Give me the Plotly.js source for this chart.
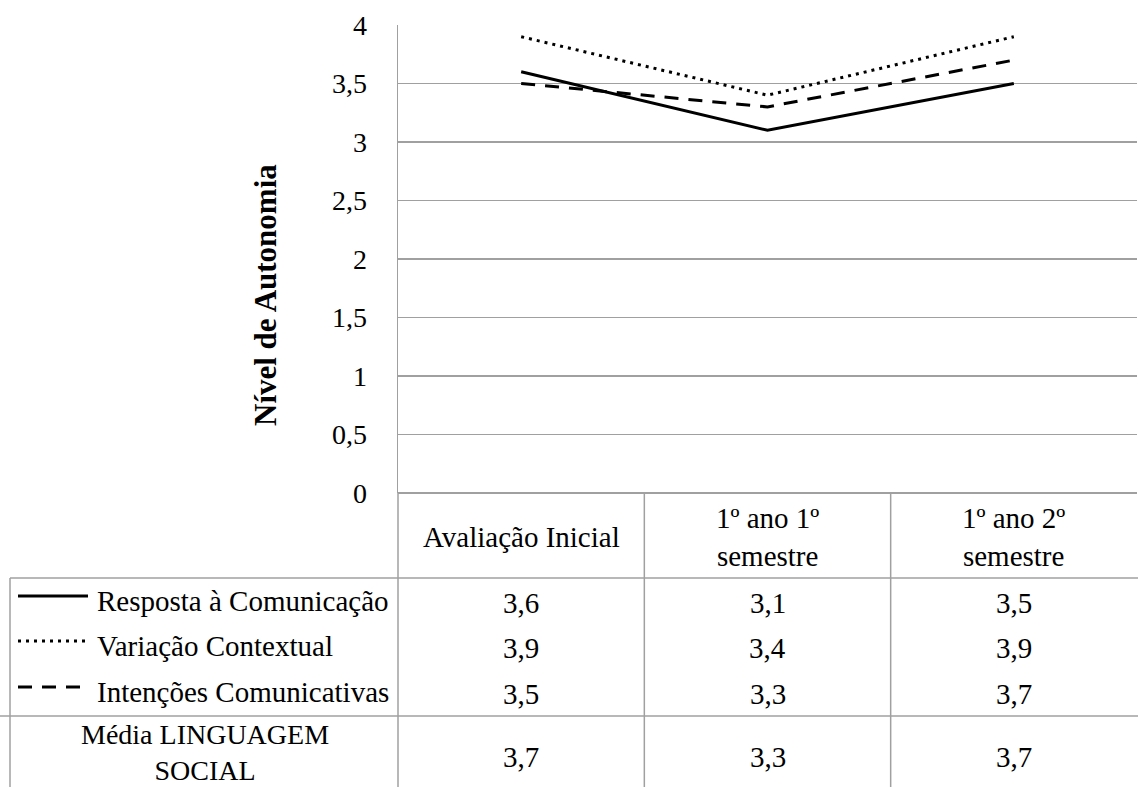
<!DOCTYPE html>
<html>
<head>
<meta charset="utf-8">
<script src="https://cdn.plot.ly/plotly-3.0.1.min.js"></script>
<style>
html,body{margin:0;padding:0;background:#fff;}
#chart{width:1138px;height:787px;}
</style>
</head>
<body>
<div id="chart"></div>
<script>
// ---- data ----
var categories = ['Avaliação Inicial', '1º ano 1º semestre', '1º ano 2º semestre'];
var categoryLabels = ['Avaliação Inicial', '1º ano 1º<br>semestre', '1º ano 2º<br>semestre'];
var seriesNames = ['Resposta à Comunicação', 'Variação Contextual', 'Intenções Comunicativas'];
var resposta = [3.6, 3.1, 3.5];
var variacao = [3.9, 3.4, 3.9];
var intencoes = [3.5, 3.3, 3.7];
var mediaLabel = 'Média LINGUAGEM<br>SOCIAL';
var media = [3.7, 3.3, 3.7];
var yTitle = 'Nível de Autonomia';

// ---- layout helpers (pixel -> paper) ----
var L = 398, R = 1137, T = 25, B = 493, W = R - L, H = B - T;
function fx(x){ return (x - L) / W; }
function fy(y){ return (B - y) / H; }
function fmt(v){ return v.toFixed(1).replace('.', ','); }

var FONT = 'Liberation Serif';
var FS = 29;
var dashes = ['solid', '3px,5px', '14px,10px'];
var seriesValues = [resposta, variacao, intencoes];

var traces = seriesValues.map(function(vals, i){
  return {
    x: categories, y: vals, type: 'scatter', mode: 'lines', name: seriesNames[i],
    line: {color: '#000', width: 3, dash: dashes[i]}, hoverinfo: 'skip'
  };
});

var grid = '#a0a0a0';
var shapes = [];
function hline(x0, x1, y){ shapes.push({type:'line', xref:'paper', yref:'paper', x0:fx(x0), x1:fx(x1), y0:fy(y), y1:fy(y), line:{color:grid, width:1.5}}); }
function vline(x, y0, y1){ shapes.push({type:'line', xref:'paper', yref:'paper', x0:fx(x), x1:fx(x), y0:fy(y0), y1:fy(y1), line:{color:grid, width:1.5}}); }

// table lines
hline(10, 1138, 578);
hline(0, 1138, 716);
vline(398, 493, 787);
vline(10, 578, 787);
[0.5, 1.5].forEach(function(c){
  shapes.push({type:'line', xref:'x', yref:'paper', x0:c, x1:c, y0:fy(493), y1:fy(787), line:{color:grid, width:1.5}});
});

// legend keys inside table
var rowY = [601, 646, 692];
var keyY = [596, 641, 687];
seriesNames.forEach(function(n, i){
  shapes.push({type:'line', xref:'paper', yref:'paper', x0:fx(18), x1:fx(88), y0:fy(keyY[i]), y1:fy(keyY[i]),
    line:{color:'#000', width:3, dash:dashes[i]}});
});

var annotations = [];
annotations.push({xref:'paper', yref:'paper', x:fx(265), y:fy(295), text:'<b>'+yTitle+'</b>', textangle:-90,
  showarrow:false, xanchor:'center', yanchor:'middle', font:{family:FONT, size:31, color:'#000'}});
categoryLabels.forEach(function(lab, j){
  annotations.push({xref:'x', yref:'paper', x:j, y:fy(537), text:lab, showarrow:false,
    xanchor:'center', yanchor:'middle', font:{family:FONT, size:FS, color:'#000'}});
});
seriesNames.forEach(function(n, i){
  annotations.push({xref:'paper', yref:'paper', x:fx(95), y:fy(rowY[i]), text:n, showarrow:false,
    xanchor:'left', yanchor:'middle', font:{family:FONT, size:FS, color:'#000'}});
  seriesValues[i].forEach(function(v, j){
    annotations.push({xref:'x', yref:'paper', x:j, y:fy(rowY[i]+2), text:fmt(v), showarrow:false,
      xanchor:'center', yanchor:'middle', font:{family:FONT, size:FS, color:'#000'}});
  });
});
annotations.push({xref:'paper', yref:'paper', x:fx(205), y:fy(752), text:mediaLabel, showarrow:false,
  xanchor:'center', yanchor:'middle', font:{family:FONT, size:FS - 1, color:'#000'}});
media.forEach(function(v, j){
  annotations.push({xref:'x', yref:'paper', x:j, y:fy(757), text:fmt(v), showarrow:false,
    xanchor:'center', yanchor:'middle', font:{family:FONT, size:FS, color:'#000'}});
});

var layout = {
  width: 1138, height: 787,
  margin: {l: L, r: 1138 - R, t: T, b: 787 - B, pad: 0},
  paper_bgcolor: '#fff', plot_bgcolor: '#fff',
  showlegend: false,
  separators: ', ',
  font: {family: FONT, color: '#000'},
  xaxis: {type: 'category', range: [-0.5, 2.5], showticklabels: false, showgrid: false,
    zeroline: false, showline: false, ticks: '', fixedrange: true},
  yaxis: {range: [0, 4], dtick: 0.5, tick0: 0, showgrid: true, gridcolor: grid, gridwidth: 1.5,
    zeroline: true, zerolinecolor: grid, zerolinewidth: 1.5,
    showline: true, linecolor: grid, linewidth: 1.5,
    ticks: 'outside', ticklen: 24, tickcolor: 'rgba(0,0,0,0)',
    tickfont: {family: FONT, size: 28, color: '#000'}, fixedrange: true},
  shapes: shapes,
  annotations: annotations
};

Plotly.newPlot('chart', traces, layout, {displayModeBar: false, staticPlot: true});
</script>
</body>
</html>
